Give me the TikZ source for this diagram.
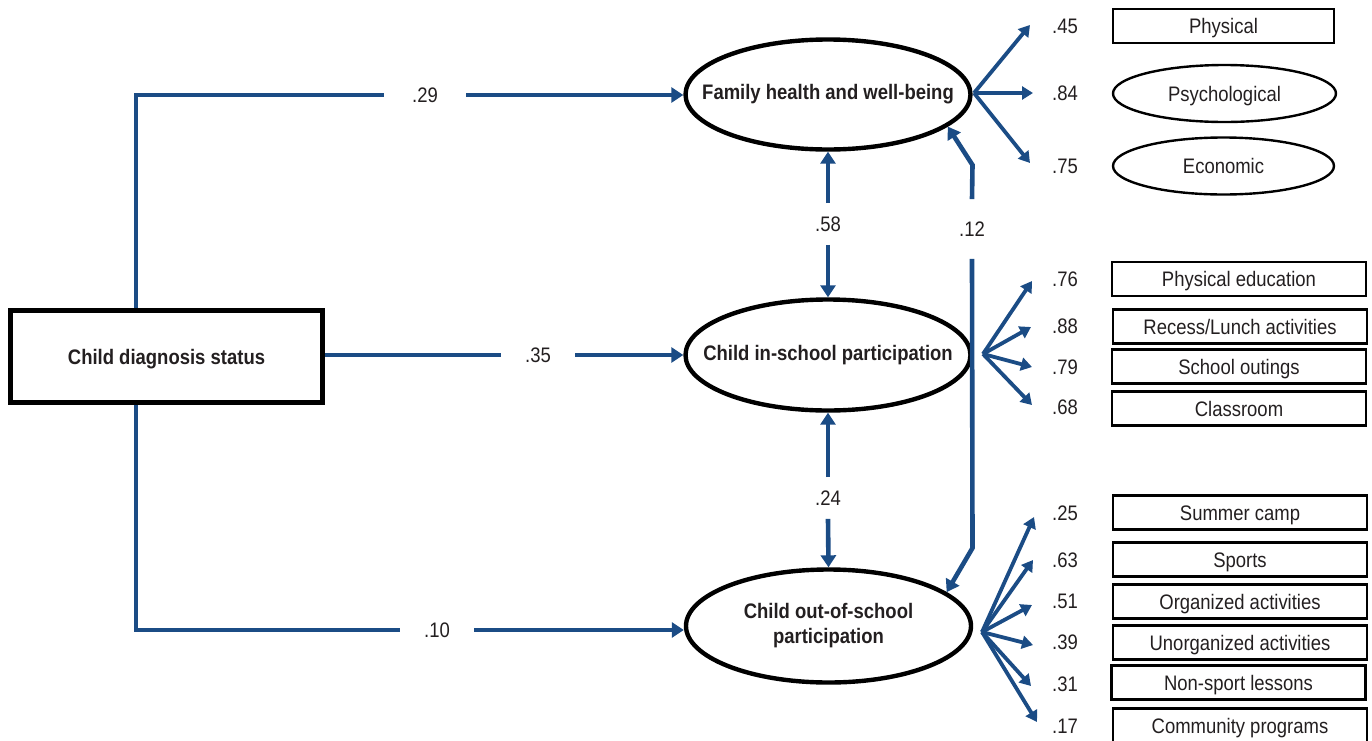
\documentclass[tikz,border=0pt]{standalone}
\usepackage{fontspec}
\setmainfont{Liberation Sans}[FakeStretch=0.88]
\usetikzlibrary{arrows.meta,shapes.geometric,calc}
\definecolor{pathblue}{HTML}{1B4C85}
\definecolor{txt}{HTML}{231F20}
\begin{document}
\begin{tikzpicture}[x=0.5pt,y=-0.5pt,
  every node/.style={font=\fontsize{10.5}{11.5}\selectfont, text=txt},
  capc/.style={text height=7.5pt, text depth=0pt},
  conn/.style={draw=pathblue, line width=2.3pt},
  tip/.style={-{Triangle[length=6pt,width=7.5pt]}},
  ind/.style={draw=pathblue, line width=1.9pt, -{Triangle[length=5.5pt,width=6.5pt]}},
  latent/.style={draw=black, line width=2.2pt, ellipse, inner sep=0pt,
     minimum width=142.5pt, font=\fontsize{10.5}{11.5}\selectfont\bfseries},
  mainbox/.style={draw=black, line width=2.5pt, rectangle, minimum width=156pt,
     minimum height=46pt, capc, font=\fontsize{10.5}{11.5}\selectfont\bfseries},
  obsbox/.style={draw=black, line width=1.2pt, rectangle, minimum width=127pt, minimum height=17pt, inner sep=0pt, capc},
  obsell/.style={draw=black, line width=1.2pt, ellipse, inner sep=0pt, minimum width=111.5pt, minimum height=28.5pt, capc},
  coef/.style={inner xsep=12pt, inner ysep=6.5pt, capc},
  val/.style={inner sep=0pt, capc}
]
\useasboundingbox (0,0) rectangle (1372,740);

% main nodes
\node[mainbox] (cds) at (166.5,356.5) {Child diagnosis status};
\node[latent, minimum height=55pt] (fam) at (828,94.5) {\makebox[0pt]{\raisebox{-0.7pt}{Family health and well-being}}};
\node[latent, minimum height=55.5pt] (ins) at (828,355) {\makebox[0pt]{Child in-school participation}};
\node[latent, minimum height=56.5pt] (out) at (828.5,626) {\makebox[0pt]{\raisebox{-1.5pt}{\fontsize{10.5}{12.3}\selectfont\begin{tabular}{@{}c@{}}Child out-of-school\\participation\end{tabular}}}};

% coefficient labels
\node[coef, inner xsep=14pt] (c29) at (425,95) {.29};
\node[coef] (c35) at (538,355) {.35};
\node[coef, inner xsep=12pt] (c10) at (437,630) {.10};
\node[coef] (c58) at (828,224) {.58};
\node[coef] (c24) at (828,498) {.24};
\node[coef, inner xsep=2pt, inner ysep=11pt] (c12) at (972,229) {.12};

% structural paths
\draw[conn] ([xshift=64pt]cds.north west) |- (c29.west);
\draw[conn,tip] (c29.east) -- (c29.east -| fam.west);
\draw[conn] (cds.east |- c35) -- (c35.west);
\draw[conn,tip] (c35.east) -- (c35.east -| ins.west);
\draw[conn] ([xshift=64pt]cds.south west) |- (c10.west);
\draw[conn,tip] (c10.east) -- (c10.east -| out.west);

\draw[conn,tip] (c58.north) -- (fam.south);
\draw[conn,tip] (c58.south) -- (ins.north);
\draw[conn,tip] (c24.north) -- (ins.south);
\draw[conn,tip] (c24.south) -- (out.north);

\coordinate (k1) at (972.5,165);
\coordinate (k2) at (972.5,548);
\draw[conn,tip] (c12.north) -- (k1) -- (fam.-15);
\draw[conn,tip] (c12.south) -- (k2) -- (out.16);

% family indicators
\node[val] (v45) at (1065,26) {.45};
\node[val] (v84) at (1065,93) {.84};
\node[val] (v75) at (1065,166) {.75};
\node[obsbox, minimum width=110.5pt] (o1) at (1223.5,26) {Physical};
\node[obsell] (o2) at (1224.5,93.5) {Psychological};
\node[obsell, minimum width=110.5pt] (o3) at (1223.5,166) {Economic};
\coordinate (fo) at (974,93);
\coordinate (a45) at (1030,25);
\coordinate (a84) at (1033,93);
\coordinate (a75) at (1030,163);
\draw[ind] (fo) -- (a45);
\draw[ind] (fo) -- (a84);
\draw[ind] (fo) -- (a75);

% in-school indicators
\node[val] (v76) at (1065,279) {.76};
\node[val] (v88) at (1065,326) {.88};
\node[val] (v79) at (1065,367) {.79};
\node[val] (v68) at (1065,407) {.68};
\node[obsbox] (p1) at (1239,279) {Physical education};
\node[obsbox] (p2) at (1240,326.5) {Recess/Lunch activities};
\node[obsbox] (p3) at (1239,366.5) {School outings};
\node[obsbox] (p4) at (1239,408.5) {Classroom};
\coordinate (io) at (983,354);
\coordinate (a76) at (1032,281);
\coordinate (a88) at (1031,327);
\coordinate (a79) at (1032,367);
\coordinate (a68) at (1032,405);
\draw[ind] (io) -- (a76);
\draw[ind] (io) -- (a88);
\draw[ind] (io) -- (a79);
\draw[ind] (io) -- (a68);

% out-of-school indicators
\node[val] (v25) at (1065,513) {.25};
\node[val] (v63) at (1065,560) {.63};
\node[val] (v51) at (1065,601) {.51};
\node[val] (v39) at (1065,642) {.39};
\node[val] (v31) at (1065,684) {.31};
\node[val] (v17) at (1065,726) {.17};
\node[obsbox] (q1) at (1240,512.5) {Summer camp};
\node[obsbox] (q2) at (1240,559.5) {Sports};
\node[obsbox] (q3) at (1240,601.5) {Organized activities};
\node[obsbox] (q4) at (1240,642.5) {Unorganized activities};
\node[obsbox] (q5) at (1238.5,682.5) {Non-sport lessons};
\node[obsbox] (q6) at (1240,725.5) {Community programs};
\coordinate (oo) at (982,632);
\coordinate (a25) at (1034,517);
\coordinate (a63) at (1033,560);
\coordinate (a51) at (1032,605);
\coordinate (a39) at (1033,645);
\coordinate (a31) at (1031,686);
\coordinate (a17) at (1037,722);
\draw[ind] (oo) -- (a25);
\draw[ind] (oo) -- (a63);
\draw[ind] (oo) -- (a51);
\draw[ind] (oo) -- (a39);
\draw[ind] (oo) -- (a31);
\draw[ind] (oo) -- (a17);
\end{tikzpicture}
\end{document}
